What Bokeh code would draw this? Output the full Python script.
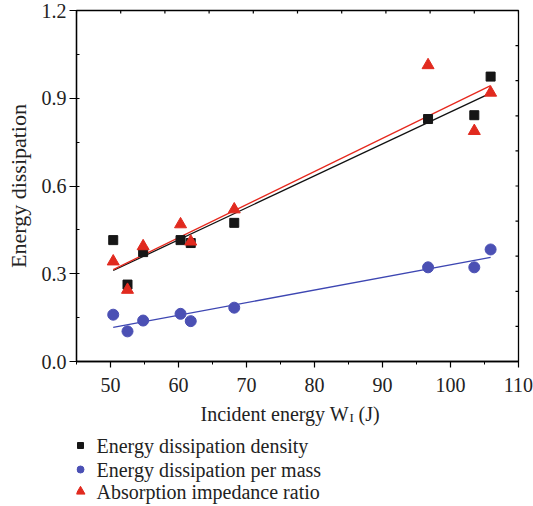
import numpy as np
from bokeh.plotting import figure
from bokeh.layouts import column
from bokeh.models import Range1d, SingleIntervalTicker, NumeralTickFormatter
from bokeh.core.properties import value
from bokeh.embed import file_html
from bokeh.resources import INLINE

# ---- data ----
incident_energy = [50.4, 52.5, 54.8, 60.3, 61.8, 68.2, 96.7, 103.5, 105.9]
dissipation_density = [0.415, 0.263, 0.374, 0.415, 0.405, 0.474, 0.829, 0.842, 0.974]
dissipation_per_mass = [0.160, 0.103, 0.140, 0.163, 0.138, 0.184, 0.322, 0.322, 0.383]
impedance_ratio = [0.342, 0.245, 0.394, 0.469, 0.410, 0.520, 1.013, 0.788, 0.919]

series_names = ["Energy dissipation density", "Energy dissipation per mass",
                "Absorption impedance ratio"]
x_label_parts = ["Incident energy W", "I", "(J)"]
y_label = "Energy dissipation"
top_ticks = [45 + 6.5 * k for k in range(11)]
right_ticks = [0.12 * k for k in range(11)]

FONT = "Liberation Serif"
TXT = "#222222"
colors = ["#161616", "#4b50b4", "#e12a1f"]
line_cols = ["#111111", "#3d46b2", "#e6281d"]
markers = ["square", "circle", "triangle"]

LEFT, RIGHT = 76, 15

p = figure(width=533, height=395, output_backend="svg", toolbar_location=None,
           x_range=Range1d(45, 110), y_range=Range1d(0, 1.2),
           min_border_left=LEFT, min_border_right=RIGHT, min_border_top=10,
           min_border_bottom=34)
p.outline_line_color = "black"
p.outline_line_width = 1.3
p.xgrid.visible = False
p.ygrid.visible = False

xa = p.xaxis[0]
xa.ticker = SingleIntervalTicker(interval=10, num_minor_ticks=2)
ya = p.yaxis[0]
ya.ticker = SingleIntervalTicker(interval=0.3, num_minor_ticks=2)
ya.formatter = NumeralTickFormatter(format="0.0")
for ax in (xa, ya):
    ax.axis_line_color = "black"
    ax.axis_line_width = 1.3
    ax.major_tick_line_color = "black"
    ax.minor_tick_line_color = "black"
    ax.major_tick_line_width = 1.2
    ax.major_label_text_font = FONT
    ax.major_label_text_font_size = "20px"
    ax.major_label_text_color = TXT
    ax.axis_label_text_font = FONT
    ax.axis_label_text_font_style = "normal"
    ax.axis_label_text_color = TXT
xa.major_tick_out = 6
xa.major_tick_in = 0
xa.minor_tick_out = 3
xa.minor_tick_in = 0
xa.major_label_standoff = 10
ya.major_tick_out = 7
ya.major_tick_in = 0
ya.minor_tick_out = 0
ya.minor_tick_in = 3
ya.major_label_standoff = 3
ya.axis_label = y_label
ya.axis_label_text_font_size = "22px"
ya.axis_label_standoff = 8

# inward ticks on the top and right edges
p.ray(x=top_ticks, y=1.2, length=3, length_units="screen", angle=-90,
      angle_units="deg", line_color="black", line_width=1.2)
p.ray(x=110, y=right_ticks, length=3, length_units="screen", angle=180,
      angle_units="deg", line_color="black", line_width=1.2)

# linear fits and points
xs = np.array(incident_energy)
xfit = np.array([xs.min(), xs.max()])
series = [dissipation_density, dissipation_per_mass, impedance_ratio]
sizes = [9, 11, 12]
for ys, lc in zip(series, line_cols):
    m, b = np.polyfit(xs, np.array(ys), 1)
    p.line(xfit, m * xfit + b, line_color=lc, line_width=1.3)
for ys, c, mk, s in zip(series, colors, markers, sizes):
    p.scatter(incident_energy, ys, marker=mk, size=s, fill_color=c, line_color=c)

# ---- lower panel: x-axis title and legend (x in page pixels) ----
q = figure(width=533, height=111, output_backend="svg", toolbar_location=None,
           x_range=Range1d(LEFT, 533 - RIGHT), y_range=Range1d(111, 0),
           x_axis_type=None, y_axis_type=None,
           min_border_left=LEFT, min_border_right=RIGHT,
           min_border_top=0, min_border_bottom=0)
q.xgrid.visible = False
q.ygrid.visible = False
q.outline_line_color = None

q.text(x=[200], y=[18], text=[x_label_parts[0]], text_font=value(FONT),
       text_font_size="20px", text_color=TXT, text_baseline="alphabetic")
q.text(x=[349], y=[22], text=[x_label_parts[1]], text_font=value(FONT),
       text_font_size="13px", text_color=TXT, text_baseline="alphabetic")
q.text(x=[358], y=[18], text=[x_label_parts[2]], text_font=value(FONT),
       text_font_size="20px", text_color=TXT, text_baseline="alphabetic")

leg_y = [50, 74, 96]
leg_sizes = [6, 7, 9]
for yy, c, mk, s, name in zip(leg_y, colors, markers, leg_sizes, series_names):
    q.scatter([80], [yy], marker=mk, size=s, fill_color=c, line_color=c)
    q.text(x=[96], y=[yy], text=[name], text_font=value(FONT), text_font_size="20px",
           text_color=TXT, text_baseline="middle")

open("out.html", "w").write(file_html(column(p, q), INLINE))
